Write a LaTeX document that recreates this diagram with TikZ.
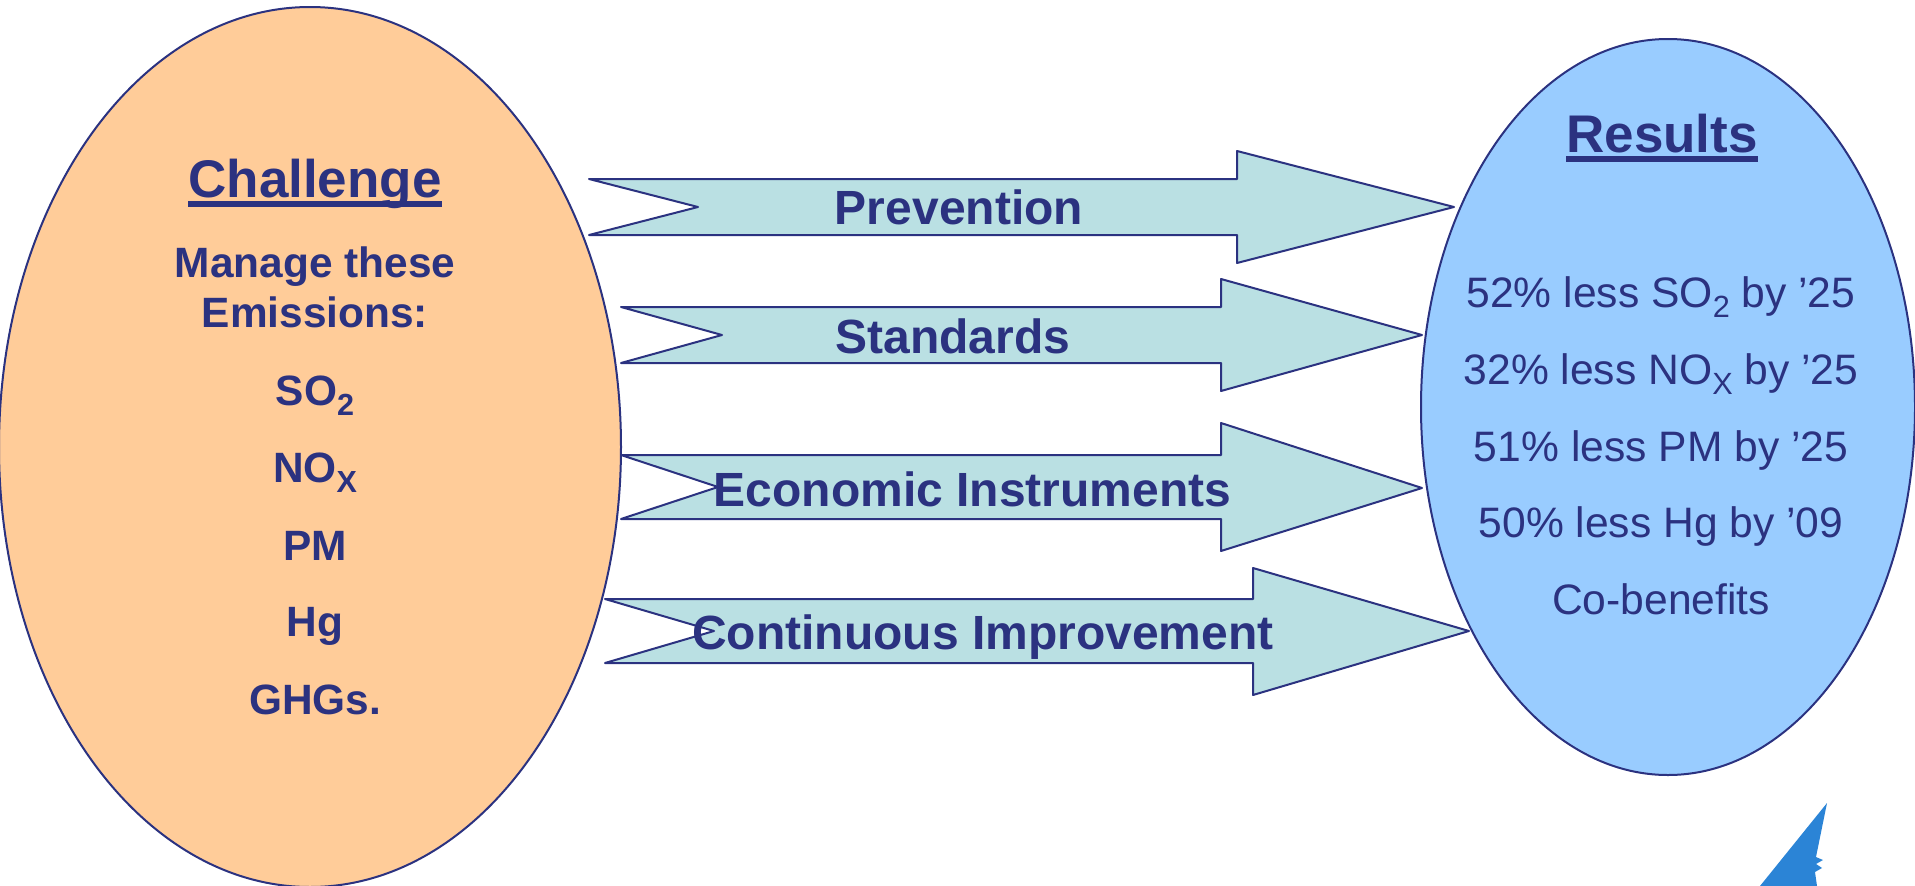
\documentclass[tikz,border=0pt]{standalone}
\usepackage{fontspec}
\setmainfont{Liberation Sans}
\definecolor{navy}{HTML}{2B3280}
\definecolor{peach}{HTML}{FFCC99}
\definecolor{sky}{HTML}{99CCFF}
\definecolor{teal}{HTML}{BAE0E3}
\definecolor{logoblue}{HTML}{2B84D6}
\newcommand{\subs}[1]{\raisebox{-.24em}{\fontsize{.72em}{1em}\selectfont #1}}
\newcommand{\ulbox}[1]{\setbox0\hbox{#1}\rlap{\rule[-.19em]{\wd0}{.113em}}\box0}
\tikzset{
  x=1pt,y=-1pt,
  blob/.style={draw=navy,line width=2pt},
  band/.style={draw=navy,line width=2pt,fill=teal,line join=round},
  lab/.style={anchor=base,inner sep=0pt,text=navy,font=\fontsize{48}{50}\selectfont\bfseries},
  head/.style={anchor=base,inner sep=0pt,text=navy,font=\fontsize{53}{56}\selectfont\bfseries},
  chal/.style={anchor=base,inner sep=0pt,text=navy,font=\fontsize{42.4}{46}\selectfont\bfseries},
  res/.style={anchor=base,inner sep=0pt,text=navy,font=\fontsize{42.6}{46}\selectfont},
}
\begin{document}
\begin{tikzpicture}
\useasboundingbox (0,0) rectangle (1915,886);
\clip (0,0) rectangle (1915,886);
% ellipses
\draw[blob,fill=peach] (310,447) ellipse [x radius=311,y radius=440];
\draw[blob,fill=sky] (1668,407) ellipse [x radius=247,y radius=368];
% arrows
\draw[band] (589,179) -- (1237,179) -- (1237,151) -- (1454,207) -- (1237,263) -- (1237,235) -- (589,235) -- (698,207) -- cycle;
\draw[band] (621,307) -- (1221,307) -- (1221,279) -- (1422,335) -- (1221,391) -- (1221,363) -- (621,363) -- (722,335) -- cycle;
\draw[band] (621,455) -- (1221,455) -- (1221,423) -- (1422,488) -- (1221,551) -- (1221,519) -- (621,519) -- (718,487) -- cycle;
\draw[band] (605,599) -- (1253,599) -- (1253,568) -- (1469,631) -- (1253,695) -- (1253,663) -- (605,663) -- (714,631) -- cycle;
% labels
\node[lab] (prev) at (959,224) {Prevention};
\node[lab] (stan) at (953,353) {Standards};
\node[lab] (econ) at (972.5,506) {Economic Instruments};
\node[lab] (cont) at (983,649) {Continuous Improvement};
% left text
\node[head] (chall) at (315,197) {\ulbox{Challenge}};
\node[chal] (m1) at (315,277) {Manage these};
\node[chal] (m2) at (315,327) {Emissions:};
\node[chal] (so) at (315,405) {SO\subs{2}};
\node[chal] (no) at (315,482) {NO\subs{X}};
\node[chal] (pm) at (315,560) {PM};
\node[chal] (hg) at (315,636) {Hg};
\node[chal] (gh) at (315,714) {GHGs.};
% right text
\node[head] (resu) at (1662,152) {\ulbox{Results}};
\node[res] (r1) at (1661,307) {52\% less SO\subs{2} by ’25};
\node[res] (r2) at (1661,384) {32\% less NO\subs{X} by ’25};
\node[res] (r3) at (1661,461) {51\% less PM by ’25};
\node[res] (r4) at (1661,537) {50\% less Hg by ’09};
\node[res] (r5) at (1661,614) {Co-benefits};
% logo fragment
\fill[logoblue] (1827,803) -- (1760,886) -- (1817,886) -- (1815,872) -- (1822,868) -- (1816,864) -- (1823,860) -- (1816,857) -- cycle;
\end{tikzpicture}
\end{document}
